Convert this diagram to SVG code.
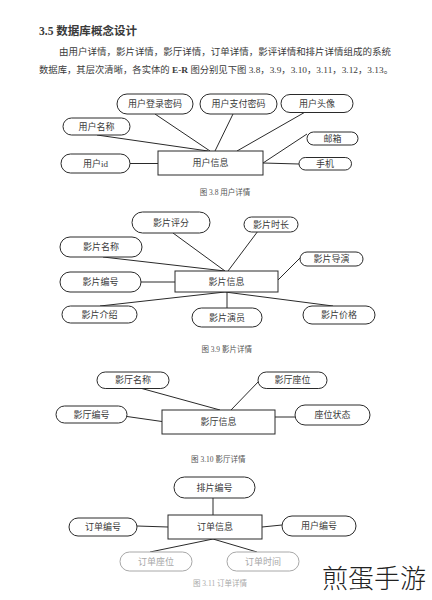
<svg xmlns="http://www.w3.org/2000/svg" width="432" height="600" viewBox="0 0 432 600">
<style>
text{font-family:"Liberation Serif","Noto Sans CJK SC",serif;fill:#3a3a3a}
.attr rect{fill:#fff;stroke:#2a2a2a;stroke-width:1}
.ent rect{fill:#fff;stroke:#2a2a2a;stroke-width:1}
.lbl{font-size:9px;text-anchor:middle}
.cap{font-size:7.5px;text-anchor:middle;fill:#555}
.faint rect{stroke:#a8a8a8}
.faint text{fill:#a8a8a8}
#connectors line{stroke:#2a2a2a;stroke-width:1}
</style>
<rect width="432" height="600" fill="#fff"/>
<g id="header">
<text x="39" y="35" font-size="11.5" font-weight="bold" fill="#222" textLength="98" lengthAdjust="spacingAndGlyphs">3.5 数据库概念设计</text>
<text x="59" y="55" font-size="9" textLength="332" lengthAdjust="spacingAndGlyphs">由用户详情，影片详情，影厅详情，订单详情，影评详情和排片详情组成的系统</text>
<text x="39" y="73" font-size="9" textLength="354" lengthAdjust="spacingAndGlyphs">数据库，其层次清晰，各实体的 <tspan font-weight="bold">E-R</tspan> 图分别见下图 3.8，3.9，3.10，3.11，3.12，3.13。</text>
</g>
<g id="connectors">
<line x1="97" y1="135" x2="208" y2="151"/>
<line x1="155" y1="114" x2="210" y2="151"/>
<line x1="233" y1="114" x2="215" y2="151"/>
<line x1="307" y1="111" x2="237" y2="151"/>
<line x1="307" y1="134" x2="263" y2="163"/>
<line x1="299" y1="164" x2="263" y2="163"/>
<line x1="130" y1="163.5" x2="158" y2="163.5"/>
<line x1="103" y1="257" x2="225" y2="271"/>
<line x1="173" y1="233" x2="225" y2="271"/>
<line x1="258" y1="231" x2="228" y2="271"/>
<line x1="300" y1="258" x2="278" y2="280"/>
<line x1="141" y1="282" x2="175" y2="282"/>
<line x1="100" y1="306" x2="225" y2="292"/>
<line x1="227" y1="308" x2="227" y2="292"/>
<line x1="333" y1="306" x2="225" y2="292"/>
<line x1="140" y1="388" x2="220" y2="410"/>
<line x1="260" y1="380" x2="231" y2="410"/>
<line x1="127" y1="416.5" x2="162" y2="421.5"/>
<line x1="275" y1="417" x2="295" y2="417"/>
<line x1="213" y1="498" x2="213" y2="515"/>
<line x1="137" y1="526" x2="168" y2="527"/>
<line x1="262" y1="527" x2="282" y2="525"/>
<line x1="213" y1="539" x2="150" y2="552"/>
<line x1="213" y1="539" x2="257" y2="552"/>
</g>
<!-- Fig 3.8 -->
<g id="u_login" class="attr"><rect x="117" y="94" width="76" height="20" rx="10"/><text class="lbl" x="155" y="107.2">用户登录密码</text></g>
<g id="u_pay" class="attr"><rect x="200" y="94" width="77" height="20" rx="10"/><text class="lbl" x="238.5" y="107.2">用户支付密码</text></g>
<g id="u_avatar" class="attr"><rect x="281" y="94.5" width="72" height="18" rx="9"/><text class="lbl" x="317" y="106.7">用户头像</text></g>
<g id="u_name" class="attr"><rect x="63" y="118" width="67" height="17" rx="8.5"/><text class="lbl" x="96.5" y="129.7">用户名称</text></g>
<g id="u_email" class="attr"><rect x="307" y="132" width="51" height="13" rx="6.5"/><text class="lbl" x="332.5" y="141.7">邮箱</text></g>
<g id="u_id" class="attr"><rect x="61" y="154" width="69" height="19" rx="9.5"/><text class="lbl" x="95.5" y="166.7">用户id</text></g>
<g id="u_phone" class="attr"><rect x="299" y="157.5" width="52.5" height="12.5" rx="6.25"/><text class="lbl" x="325" y="167">手机</text></g>
<g id="u_info" class="ent"><rect x="158" y="151" width="105" height="24"/><text class="lbl" x="210.5" y="166.2">用户信息</text></g>
<text class="cap" x="225" y="195">图 3.8  用户详情</text>
<!-- Fig 3.9 -->
<g id="m_score" class="attr"><rect x="132" y="212" width="78" height="21" rx="10.5"/><text class="lbl" x="171" y="225.7">影片评分</text></g>
<g id="m_duration" class="attr"><rect x="244" y="217" width="54" height="15" rx="7.5"/><text class="lbl" x="271" y="227.7">影片时长</text></g>
<g id="m_name" class="attr"><rect x="60" y="237" width="82" height="20" rx="10"/><text class="lbl" x="101" y="250.2">影片名称</text></g>
<g id="m_director" class="attr"><rect x="300" y="252" width="63" height="14" rx="7"/><text class="lbl" x="331.5" y="262.2">影片导演</text></g>
<g id="m_id" class="attr"><rect x="60" y="272" width="81" height="20" rx="10"/><text class="lbl" x="100.5" y="285.2">影片编号</text></g>
<g id="m_info" class="ent"><rect x="175" y="271" width="103" height="21"/><text class="lbl" x="226.5" y="284.7">影片信息</text></g>
<g id="m_intro" class="attr"><rect x="62" y="306" width="75" height="17" rx="8.5"/><text class="lbl" x="99.5" y="317.7">影片介绍</text></g>
<g id="m_actor" class="attr"><rect x="192" y="308" width="70" height="19" rx="9.5"/><text class="lbl" x="227" y="320.7">影片演员</text></g>
<g id="m_price" class="attr"><rect x="303" y="306" width="72" height="18" rx="9"/><text class="lbl" x="339" y="318.2">影片价格</text></g>
<text class="cap" x="226.7" y="352">图 3.9  影片详情</text>
<!-- Fig 3.10 -->
<g id="h_name" class="attr"><rect x="97" y="372" width="72" height="16.5" rx="8.25"/><text class="lbl" x="133" y="383.4">影厅名称</text></g>
<g id="h_seat" class="attr"><rect x="258" y="372" width="69" height="16.5" rx="8.25"/><text class="lbl" x="292.5" y="383.4">影厅座位</text></g>
<g id="h_id" class="attr"><rect x="56" y="406" width="71" height="17" rx="8.5"/><text class="lbl" x="91.5" y="417.7">影厅编号</text></g>
<g id="h_status" class="attr"><rect x="295" y="405" width="75" height="20" rx="10"/><text class="lbl" x="332.5" y="418.2">座位状态</text></g>
<g id="h_info" class="ent"><rect x="162" y="410" width="113" height="24"/><text class="lbl" x="218.5" y="425.2">影厅信息</text></g>
<text class="cap" x="218.3" y="462">图 3.10  影厅详情</text>
<!-- Fig 3.11 -->
<g id="o_schedule" class="attr"><rect x="174" y="477" width="81" height="21" rx="10.5"/><text class="lbl" x="214.5" y="490.7">排片编号</text></g>
<g id="o_id" class="attr"><rect x="69" y="518" width="68" height="18" rx="9"/><text class="lbl" x="103" y="530.2">订单编号</text></g>
<g id="o_info" class="ent"><rect x="168" y="515" width="94" height="24"/><text class="lbl" x="215" y="530.2">订单信息</text></g>
<g id="o_user" class="attr"><rect x="282" y="516" width="74" height="20" rx="10"/><text class="lbl" x="319" y="529.2">用户编号</text></g>
<g id="o_seat" class="attr faint"><rect x="120" y="552" width="72" height="19" rx="9.5"/><text class="lbl" x="156" y="564.7">订单座位</text></g>
<g id="o_time" class="attr faint"><rect x="227" y="552" width="72" height="19" rx="9.5"/><text class="lbl" x="263" y="564.7">订单时间</text></g>
<text class="cap" x="220" y="586" style="fill:#aaa">图 3.11  订单详情</text>
<text x="322" y="588" font-size="26" font-weight="200" style="font-family:'Noto Sans CJK SC',sans-serif;fill:#222">煎蛋手游</text>
</svg>
